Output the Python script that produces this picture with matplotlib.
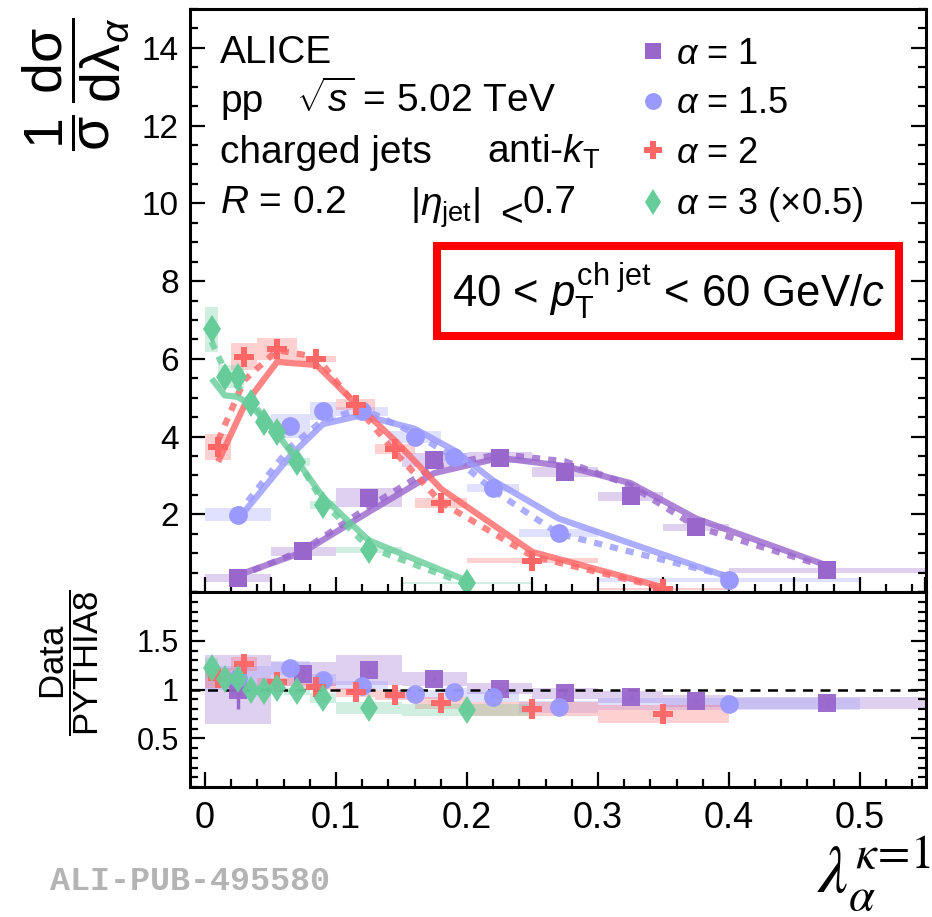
import numpy as np
import matplotlib.pyplot as plt
from matplotlib.lines import Line2D
from matplotlib.ticker import MultipleLocator, FixedLocator

plt.rcParams['font.family'] = ['Liberation Sans', 'DejaVu Sans']
plt.rcParams['mathtext.fontset'] = 'custom'
plt.rcParams['mathtext.rm'] = 'Liberation Sans'
plt.rcParams['mathtext.it'] = 'Liberation Sans:italic'
plt.rcParams['mathtext.bf'] = 'Liberation Sans:bold'

# alpha = 1
a1_edges = [0, 0.05, 0.1, 0.15, 0.2, 0.25, 0.3, 0.35, 0.4, 0.55]
a1_y = [0.36, 1.05, 2.43, 3.39, 3.46, 3.09, 2.46, 1.66, 0.56]
a1_stat = [0.03, 0.04, 0.06, 0.06, 0.06, 0.06, 0.05, 0.04, 0.02]
a1_sys = [0.10, 0.12, 0.24, 0.18, 0.13, 0.13, 0.12, 0.10, 0.06]
a1_pythia = [0.43, 1.03, 2.06, 3.06, 3.45, 3.24, 2.80, 1.89, 0.68]
a1_other = [0.40, 1.08, 2.19, 3.22, 3.55, 3.36, 2.74, 1.68, 0.64]
a1_ratio = [1.00, 1.16, 1.20, 1.11, 1.01, 0.96, 0.925, 0.88, 0.86]
a1_ratio_stat = [0.20, 0.04, 0.03, 0.02, 0.02, 0.02, 0.02, 0.02, 0.02]
a1_ratio_sys = [0.35, 0.12, 0.15, 0.07, 0.06, 0.06, 0.06, 0.06, 0.06]

# alpha = 1.5
a15_edges = [0, 0.05, 0.08, 0.1, 0.14, 0.18, 0.2, 0.24, 0.3, 0.5]
a15_y = [1.99, 4.27, 4.66, 4.65, 3.98, 3.47, 2.68, 1.52, 0.31]
a15_stat = [0.05, 0.08, 0.08, 0.06, 0.05, 0.05, 0.04, 0.03, 0.01]
a15_sys = [0.17, 0.30, 0.24, 0.12, 0.15, 0.10, 0.10, 0.10, 0.04]
a15_pythia = [1.86, 3.50, 4.32, 4.55, 4.20, 3.65, 2.87, 1.89, 0.38]
a15_other = [2.01, 3.73, 4.42, 4.72, 4.08, 3.47, 2.62, 1.50, 0.40]
a15_ratio = [1.12, 1.22, 1.10, 1.04, 0.95, 0.97, 0.92, 0.82, 0.85]
a15_ratio_stat = [0.04, 0.03, 0.02, 0.02, 0.02, 0.02, 0.02, 0.02, 0.02]
a15_ratio_sys = [0.12, 0.07, 0.06, 0.05, 0.05, 0.05, 0.05, 0.06, 0.06]

# alpha = 2
a2_edges = [0, 0.02, 0.04, 0.07, 0.1, 0.13, 0.16, 0.2, 0.3, 0.4]
a2_y = [3.73, 6.05, 6.25, 5.99, 4.82, 3.69, 2.29, 0.81, 0.08]
a2_stat = [0.15, 0.12, 0.08, 0.08, 0.07, 0.06, 0.05, 0.02, 0.01]
a2_sys = [0.34, 0.35, 0.28, 0.08, 0.15, 0.13, 0.13, 0.06, 0.02]
a2_pythia = [3.35, 4.80, 5.92, 5.84, 4.85, 3.90, 2.66, 1.03, 0.12]
a2_other = [3.90, 5.45, 6.22, 6.05, 4.81, 3.60, 2.31, 0.92, 0.10]
a2_ratio = [1.12, 1.26, 1.08, 1.03, 0.97, 0.94, 0.86, 0.80, 0.75]
a2_ratio_stat = [0.04, 0.03, 0.02, 0.02, 0.02, 0.02, 0.02, 0.02, 0.03]
a2_ratio_sys = [0.10, 0.07, 0.04, 0.04, 0.05, 0.05, 0.06, 0.07, 0.09]

# alpha = 3 (x0.5)
a3_edges = [0, 0.01, 0.02, 0.03, 0.04, 0.05, 0.06, 0.08, 0.1, 0.15, 0.25]
a3_y = [6.76, 5.54, 5.54, 4.85, 4.38, 4.12, 3.35, 2.23, 1.09, 0.23]
a3_stat = [0.30, 0.12, 0.10, 0.08, 0.08, 0.07, 0.05, 0.04, 0.03, 0.01]
a3_sys = [0.58, 0.30, 0.30, 0.12, 0.10, 0.10, 0.10, 0.10, 0.08, 0.03]
a3_pythia = [5.49, 5.06, 5.02, 4.81, 4.42, 4.08, 3.39, 2.44, 1.33, 0.29]
a3_other = [6.44, 5.71, 5.28, 4.94, 4.46, 4.16, 3.43, 2.31, 1.15, 0.20]
a3_ratio = [1.22, 1.11, 1.11, 0.99, 0.98, 1.02, 0.98, 0.91, 0.81, 0.79]
a3_ratio_stat = [0.05, 0.03, 0.02, 0.02, 0.02, 0.02, 0.02, 0.02, 0.02, 0.02]
a3_ratio_sys = [0.10, 0.06, 0.05, 0.04, 0.04, 0.04, 0.04, 0.05, 0.06, 0.06]

labels = [r'$\alpha$ = 1', r'$\alpha$ = 1.5', r'$\alpha$ = 2', r'$\alpha$ = 3 ($\times$0.5)']
colors = ['#9966cc', '#9999ff', '#ff6666', '#66cc99']
markers = ['s', 'o', 'P', 'd']
msizes = [13, 13.5, 14, 14.5]

series = [
    (a1_edges, a1_y, a1_stat, a1_sys, a1_pythia, a1_other, a1_ratio, a1_ratio_stat, a1_ratio_sys),
    (a15_edges, a15_y, a15_stat, a15_sys, a15_pythia, a15_other, a15_ratio, a15_ratio_stat, a15_ratio_sys),
    (a2_edges, a2_y, a2_stat, a2_sys, a2_pythia, a2_other, a2_ratio, a2_ratio_stat, a2_ratio_sys),
    (a3_edges, a3_y, a3_stat, a3_sys, a3_pythia, a3_other, a3_ratio, a3_ratio_stat, a3_ratio_sys),
]

W, H = 932, 917
fig = plt.figure(figsize=(W / 100, H / 100), dpi=100)
ax = fig.add_axes([190 / W, 1 - 592 / H, 736 / W, 583 / H])
axr = fig.add_axes([190 / W, 1 - 787 / H, 736 / W, 195 / H])

for (edges, y, stat, sys_, py, other, rat, rstat, rsys), c, m, ms in zip(series, colors, markers, msizes):
    edges = np.array(edges)
    left = edges[:-1]
    width = np.diff(edges)
    xc = left + width / 2
    y = np.array(y)
    sys_ = np.array(sys_)
    rat = np.array(rat)
    rsys = np.array(rsys)

    ax.bar(left, 2 * sys_, width, bottom=y - sys_, align='edge', color=c, alpha=0.3, lw=0, zorder=1)
    ax.plot(xc, py, color=c, lw=4.5, alpha=0.8, solid_capstyle='butt', zorder=2)
    ax.plot(xc, other, color=c, lw=4.5, alpha=0.8, ls=(0, (1.3, 1.3)), zorder=2)
    ax.errorbar(xc, y, yerr=stat, fmt='none', ecolor=c, elinewidth=2.5, capsize=0, zorder=3)
    ax.plot(xc, y, ls='none', marker=m, ms=ms, color=c, mew=0, zorder=4)

    axr.bar(left, 2 * rsys, width, bottom=rat - rsys, align='edge', color=c, alpha=0.3, lw=0, zorder=1)
    axr.errorbar(xc, rat, yerr=rstat, fmt='none', ecolor=c, elinewidth=2.5, capsize=0, zorder=3)
    axr.plot(xc, rat, ls='none', marker=m, ms=ms, color=c, mew=0, zorder=4, alpha=0.95)

axr.axhline(1, color='black', lw=1.8, ls=(0, (4, 3)), zorder=2)

# axes cosmetics
for a in (ax, axr):
    a.set_xlim(-0.0115, 0.5505)
    for s in a.spines.values():
        s.set_linewidth(2.2)
    a.tick_params(which='both', direction='in', right=True, top=False, width=1.6)
    a.tick_params(which='major', length=11)
    a.tick_params(which='minor', length=6)

ax.set_ylim(0, 15)
ax.xaxis.set_major_locator(MultipleLocator(0.05))
ax.xaxis.set_minor_locator(MultipleLocator(0.02))
ax.yaxis.set_major_locator(FixedLocator([2, 4, 6, 8, 10, 12, 14]))
ax.yaxis.set_minor_locator(MultipleLocator(0.5))
ax.tick_params(axis='x', labelbottom=False)
ax.tick_params(axis='y', labelsize=24, pad=8)

axr.set_ylim(0, 2)
axr.xaxis.set_major_locator(MultipleLocator(0.1))
axr.xaxis.set_minor_locator(MultipleLocator(0.02))
axr.set_xticks([0, 0.1, 0.2, 0.3, 0.4, 0.5], ['0', '0.1', '0.2', '0.3', '0.4', '0.5'])
axr.set_yticks([0.5, 1, 1.5], ['0.5', '1', '1.5'])
axr.yaxis.set_minor_locator(MultipleLocator(0.1))
axr.tick_params(axis='x', labelsize=26, pad=10)
axr.tick_params(axis='y', labelsize=22, pad=8)

# axis titles
fig.text(76 / W, 1 - 84 / H,
         r'$\dfrac{1}{\mathrm{\sigma}}\,\dfrac{\mathrm{d\sigma}}{\mathrm{d\lambda}_{\alpha}}$',
         rotation=90, fontsize=40, ha='center', va='center')
fig.text(70 / W, 1 - 663 / H, r'$\dfrac{\mathrm{Data}}{\mathrm{PYTHIA8}}$',
         rotation=90, fontsize=25, ha='center', va='center')
fig.text(0.999, 0.002, r'$\lambda_{\alpha}^{\kappa\!=\!1}$', fontsize=48,
         ha='right', va='bottom', math_fontfamily='stix')
fig.text(50 / W, 1 - 890 / H, 'ALI-PUB-495580', family='Liberation Mono',
         weight='bold', fontsize=24, color='#b4b4b4', ha='left', va='baseline')

# text block
def axpos(px, py):
    return (px - 190) / 736, (592 - py) / 583

fs = 28
ax.text(*axpos(220, 63), 'ALICE', fontsize=fs, transform=ax.transAxes, va='baseline')
ax.text(*axpos(220, 112), 'pp', fontsize=fs, transform=ax.transAxes, va='baseline')
ax.text(*axpos(296, 112), r'$\sqrt{s}$ = 5.02 TeV', fontsize=fs, transform=ax.transAxes, va='baseline')
ax.text(*axpos(220, 163), 'charged jets', fontsize=fs, transform=ax.transAxes, va='baseline')
ax.text(*axpos(487, 163), r'anti-$k_{\mathrm{T}}$', fontsize=fs, transform=ax.transAxes, va='baseline')
ax.text(*axpos(220, 213), r'$R$ = 0.2', fontsize=fs, transform=ax.transAxes, va='baseline')
ax.text(*axpos(410, 216), r'|$\eta_{\mathrm{jet}}$|', fontsize=fs, transform=ax.transAxes, va='baseline')
ax.text(*axpos(500, 226), '<', fontsize=fs, transform=ax.transAxes, va='baseline')
ax.text(*axpos(523, 213), '0.7', fontsize=fs, transform=ax.transAxes, va='baseline')

ax.text(*axpos(668, 291), r'40 < $p_{\mathrm{T}}^{\mathrm{ch\ jet}}$ < 60 GeV/$c$', fontsize=31.5,
        transform=ax.transAxes, ha='center', va='center',
        bbox=dict(boxstyle='square,pad=0.33', fc='white', ec='#ff0000', lw=5.8))

handles = [Line2D([], [], ls='none', marker=m, ms=ms * 0.9, color=c, mew=0)
           for c, m, ms in zip(colors, markers, msizes)]
ax.legend(handles, labels, loc='upper left', bbox_to_anchor=axpos(642, 37),
          frameon=False, fontsize=26, handlelength=0.6, handletextpad=0.35,
          labelspacing=0.40, borderpad=0, borderaxespad=0)

fig.savefig('out.png', dpi=100)
